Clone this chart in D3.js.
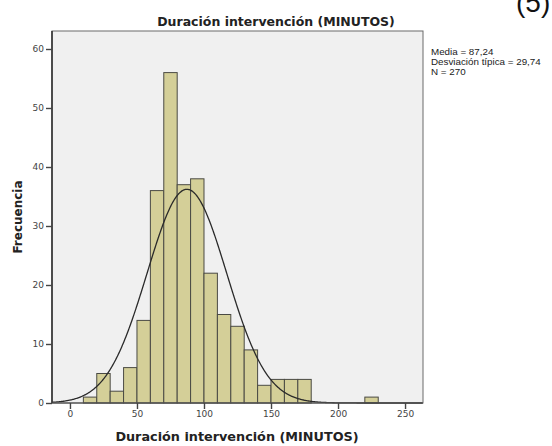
<!DOCTYPE html>
<html>
<head>
<meta charset="utf-8">
<script src="https://cdn.jsdelivr.net/npm/d3@7/dist/d3.min.js"></script>
<style>
  html, body { margin: 0; padding: 0; background: #ffffff; }
  svg { display: block; }
</style>
</head>
<body>
<svg id="chart" width="552" height="446"></svg>
<script>
// ---- data ----
const binStarts = [10, 20, 30, 40, 50, 60, 70, 80, 90, 100, 110, 120, 130, 140, 150, 160, 170, 220];
const binCounts = [1, 5, 2, 6, 14, 36, 56, 37, 38, 22, 15, 13, 9, 3, 4, 4, 4, 1];
const binWidth = 10;
const xTicks = [0, 50, 100, 150, 200, 250];
const yTicks = [0, 10, 20, 30, 40, 50, 60];
const statMean = 87.24;
const statSd = 29.74;
const statN = 270;
const legendLines = ["Media = 87,24", "Desviación típica = 29,74", "N = 270"];
const titleText = "Duración intervención (MINUTOS)";
const xLabel = "Duración intervención (MINUTOS)";
const yLabel = "Frecuencia";

// ---- layout ----
const svg = d3.select("#chart");
const pLeft = 52, pRight = 423, pTop = 31, pBottom = 403;

const x = d3.scaleLinear().domain([-13.4, 263.4]).range([pLeft, pRight]);
const y = d3.scaleLinear().domain([0, 63.05]).range([pBottom, pTop]);

// plot background
svg.append("rect")
  .attr("x", pLeft).attr("y", pTop)
  .attr("width", pRight - pLeft).attr("height", pBottom - pTop)
  .attr("fill", "#f0f0f0");

// bars
svg.append("g").selectAll("rect")
  .data(binStarts.map((s, i) => ({s, c: binCounts[i]})))
  .join("rect")
  .attr("x", d => x(d.s))
  .attr("y", d => y(d.c))
  .attr("width", d => x(d.s + binWidth) - x(d.s))
  .attr("height", d => y(0) - y(d.c))
  .attr("fill", "#d4cf98")
  .attr("stroke", "#4a4a44")
  .attr("stroke-width", 1);

// normal curve
const pdf = v => statN * binWidth / (statSd * Math.sqrt(2 * Math.PI)) *
  Math.exp(-0.5 * Math.pow((v - statMean) / statSd, 2));
const xs = d3.range(x.domain()[0], x.domain()[1] + 0.01, 0.5);
svg.append("path")
  .datum(xs)
  .attr("d", d3.line().x(v => x(v)).y(v => y(pdf(v))))
  .attr("fill", "none")
  .attr("stroke", "#2a2a2a")
  .attr("stroke-width", 1.3);

// frame
svg.append("rect")
  .attr("x", pLeft).attr("y", pTop)
  .attr("width", pRight - pLeft).attr("height", pBottom - pTop)
  .attr("fill", "none")
  .attr("stroke", "#6a6a6a")
  .attr("stroke-width", 1);
svg.append("line")
  .attr("x1", pLeft).attr("x2", pLeft).attr("y1", pTop).attr("y2", pBottom)
  .attr("stroke", "#333").attr("stroke-width", 1.6);
svg.append("line")
  .attr("x1", pLeft).attr("x2", pRight).attr("y1", pBottom).attr("y2", pBottom)
  .attr("stroke", "#444").attr("stroke-width", 1.2);

// axes
const fontTick = "'DejaVu Sans', sans-serif";
const yAxis = svg.append("g")
  .attr("transform", `translate(${pLeft},0)`)
  .call(d3.axisLeft(y).tickValues(yTicks).tickSize(6).tickPadding(2));
const xAxis = svg.append("g")
  .attr("transform", `translate(0,${pBottom})`)
  .call(d3.axisBottom(x).tickValues(xTicks).tickSize(6).tickPadding(2));
[yAxis, xAxis].forEach(g => {
  g.select(".domain").remove();
  g.selectAll(".tick line").attr("stroke", "#444").attr("stroke-width", 1.4);
  g.selectAll(".tick text")
    .attr("fill", "#444")
    .style("font-family", fontTick)
    .style("font-size", "9px");
});

// titles
svg.append("text")
  .attr("x", 276).attr("y", 26)
  .attr("text-anchor", "middle")
  .style("font-family", fontTick)
  .style("font-weight", "bold")
  .style("font-size", "12.5px")
  .attr("fill", "#222")
  .text(titleText);

svg.append("text")
  .attr("x", 237).attr("y", 441)
  .attr("text-anchor", "middle")
  .style("font-family", fontTick)
  .style("font-weight", "bold")
  .style("font-size", "12.8px")
  .attr("fill", "#222")
  .text(xLabel);

svg.append("text")
  .attr("transform", "translate(22,217) rotate(-90)")
  .attr("text-anchor", "middle")
  .style("font-family", fontTick)
  .style("font-weight", "bold")
  .style("font-size", "12px")
  .attr("fill", "#222")
  .text(yLabel);

// legend
svg.append("g").selectAll("text")
  .data(legendLines)
  .join("text")
  .attr("x", 431)
  .attr("y", (d, i) => 55 + i * 10)
  .style("font-family", "'Liberation Sans', Arial, sans-serif")
  .style("font-size", "9.8px")
  .attr("fill", "#222")
  .text(d => d);

// page fragment from source document
svg.append("text")
  .attr("x", 516).attr("y", 12)
  .style("font-family", "'Liberation Sans', Arial, sans-serif")
  .style("font-size", "28px")
  .attr("fill", "#111")
  .text("(5)");
</script>
</body>
</html>
